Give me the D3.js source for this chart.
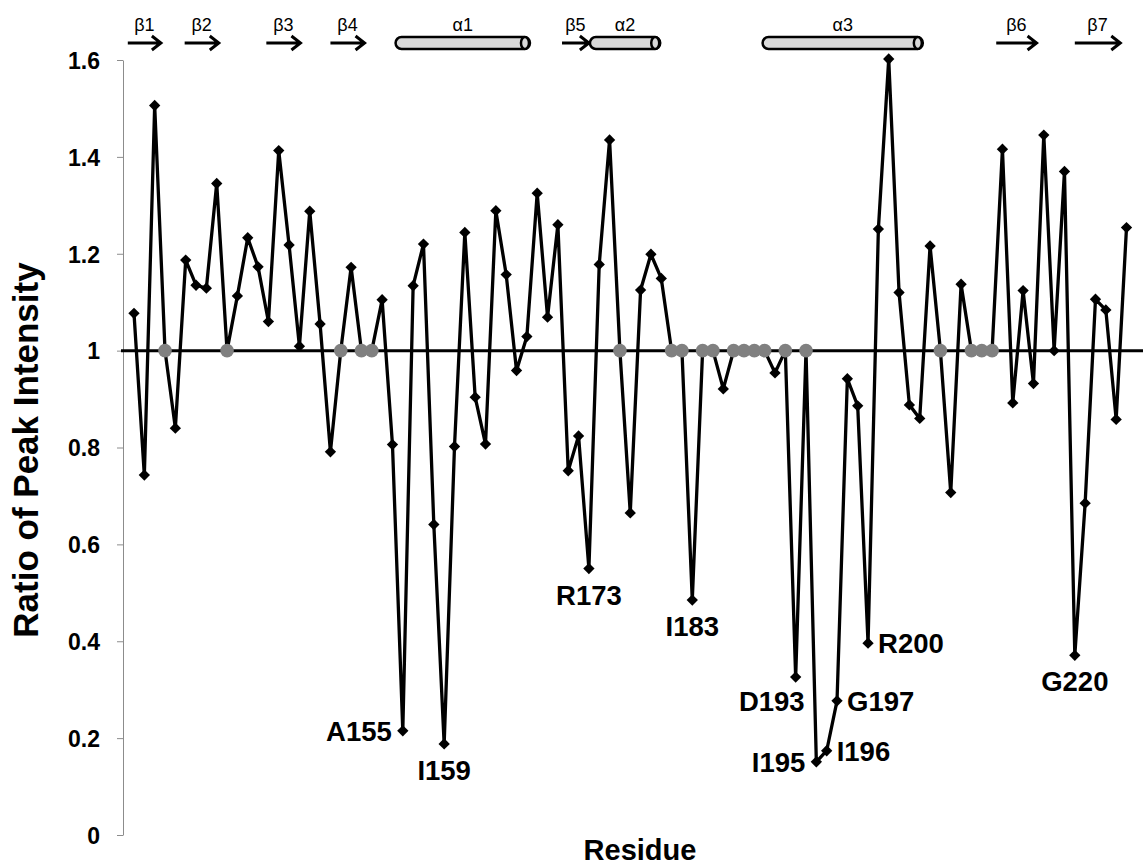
<!DOCTYPE html>
<html>
    <head>
        <title>Ratio of Peak Intensity</title>
        <meta charset="UTF-8">
        <style>
            body {margin:0; background:#fff;}
            text {font-family: "Liberation Sans", Arial, sans-serif; fill:#000;}
            .axis path, .axis line {stroke:#8c8c8c; stroke-width:1px;}
            .axis text {font-size:23px; font-weight:bold;}
            .title {font-size:30px; font-weight:bold; text-anchor:middle;}
            .reslabel {font-size:27.5px; font-weight:bold;}
            .ss text {font-size:18px; text-anchor:middle;}
        </style>
        <script src="https://d3js.org/d3.v7.min.js"></script>
    </head>
    <body>
        <svg width="1143" height="867"></svg>

        <script>
            //... values, one per residue from 129 to 225
            var firstResidue = 129;
            var ratio = [
                1.077, 0.743, 1.506, 1, 0.840, 1.187, 1.135, 1.129, 1.345, 1,
                1.113, 1.233, 1.173, 1.060, 1.413, 1.218, 1.009, 1.288, 1.055, 0.791,
                1, 1.172, 1, 1, 1.105, 0.806, 0.215, 1.134, 1.220, 0.641,
                0.188, 0.802, 1.244, 0.904, 0.807, 1.289, 1.157, 0.959, 1.029, 1.325,
                1.069, 1.260, 0.752, 0.824, 0.550, 1.178, 1.435, 1, 0.665, 1.125,
                1.199, 1.149, 1, 1, 0.485, 1, 1, 0.921, 1, 1,
                1, 1, 0.954, 1, 0.326, 1, 0.151, 0.174, 0.277, 0.942,
                0.886, 0.396, 1.251, 1.602, 1.120, 0.888, 0.860, 1.216, 1, 0.707,
                1.137, 1, 1, 1, 1.416, 0.892, 1.124, 0.932, 1.445, 1.0,
                1.370, 0.371, 0.685, 1.106, 1.084, 0.858, 1.254
            ];
            //... residues with no assignment (shown grey on the 1.0 line)
            var unassigned = [132, 138, 149, 151, 152, 176, 181, 182, 184, 185,
                              187, 188, 189, 190, 192, 194, 207, 210, 211, 212];

            var yTicks = [0, 0.2, 0.4, 0.6, 0.8, 1, 1.2, 1.4, 1.6];
            var yTickLabels = ["0", "0.2", "0.4", "0.6", "0.8", "1", "1.2", "1.4", "1.6"];

            //... labelled residues: side of the point the text sits on
            var labels = [
                {res:155, text:"A155", side:"left"},
                {res:159, text:"I159", side:"below"},
                {res:173, text:"R173", side:"below"},
                {res:183, text:"I183", side:"below"},
                {res:193, text:"D193", side:"belowleft"},
                {res:195, text:"I195", side:"left"},
                {res:196, text:"I196", side:"right"},
                {res:197, text:"G197", side:"right"},
                {res:200, text:"R200", side:"right"},
                {res:220, text:"G220", side:"below"}
            ];

            //... secondary structure along the top
            var strands = [
                {name:"β1", from:128.4, to:131.6},
                {name:"β2", from:133.9, to:137.2},
                {name:"β3", from:141.8, to:145.1},
                {name:"β4", from:148.0, to:151.3},
                {name:"β5", from:170.4, to:173.0},
                {name:"β6", from:212.4, to:216.3},
                {name:"β7", from:220.0, to:224.4}
            ];
            var helices = [
                {name:"α1", from:154.3, to:167.3},
                {name:"α2", from:173.1, to:179.9},
                {name:"α3", from:189.8, to:205.3}
            ];

            var svg = d3.select("svg");
            var data = ratio.map(function(v, i) {
                var r = firstResidue + i;
                return {res:r, v:v, grey: unassigned.indexOf(r) >= 0};
            });

            var x = d3.scaleLinear().domain([129, 225]).range([134, 1126.5]);
            var y = d3.scaleLinear().domain([0, 1.6]).range([835, 60]);

            svg.append("g")
                .attr("class", "axis")
                .attr("transform", "translate(123,0)")
                .call(d3.axisLeft(y).tickValues(yTicks)
                    .tickFormat(function(d, i) { return yTickLabels[i]; })
                    .tickSize(6).tickSizeOuter(0).tickPadding(17))
                .selectAll("text").attr("dy", "0.36em");

            //... reference line at 1
            svg.append("line")
                .attr("x1", 121).attr("x2", 1143)
                .attr("y1", y(1)).attr("y2", y(1))
                .style("stroke", "#000").style("stroke-width", 3);

            var line = d3.line().x(d => x(d.res)).y(d => y(d.v));
            svg.append("path")
                .datum(data)
                .attr("d", line)
                .style("fill", "none").style("stroke", "#000")
                .style("stroke-width", 3.3).style("stroke-linejoin", "round");

            svg.append("g").selectAll("circle")
                .data(data.filter(d => d.grey))
                .enter().append("circle")
                .attr("cx", d => x(d.res)).attr("cy", d => y(d.v))
                .attr("r", 6.8)
                .style("fill", "#808080");

            var diamond = d3.symbol().type(d3.symbolSquare).size(64);
            svg.append("g").selectAll("path")
                .data(data.filter(d => !d.grey))
                .enter().append("path")
                .attr("d", diamond)
                .attr("transform", d => "translate(" + x(d.res) + "," + y(d.v) + ") rotate(45)")
                .style("fill", "#000");

            //... residue labels
            var byRes = {};
            data.forEach(d => byRes[d.res] = d);
            svg.append("g").selectAll("text")
                .data(labels)
                .enter().append("text")
                .attr("class", "reslabel")
                .attr("x", function(d) {
                    var px = x(d.res);
                    if (d.side == "left") return px - 11;
                    if (d.side == "right") return px + 10;
                    if (d.side == "belowleft") return px + 9;
                    return px;
                })
                .attr("y", function(d) {
                    var py = y(byRes[d.res].v);
                    if (d.side == "below") return py + 36;
                    if (d.side == "belowleft") return py + 34;
                    return py + 10;
                })
                .style("text-anchor", function(d) {
                    if (d.side == "left" || d.side == "belowleft") return "end";
                    if (d.side == "right") return "start";
                    return "middle";
                })
                .text(d => d.text);

            //... structure elements
            var ss = svg.append("g").attr("class", "ss");
            var sy = 43;
            ss.selectAll("path.strand")
                .data(strands)
                .enter().append("path")
                .attr("class", "strand")
                .attr("d", function(d) {
                    var a = x(d.from), b = x(d.to);
                    return "M" + a + "," + sy + "H" + b +
                           "M" + (b - 9) + "," + (sy - 7) + "L" + b + "," + sy + "L" + (b - 9) + "," + (sy + 7);
                })
                .style("fill", "none").style("stroke", "#000").style("stroke-width", 3);

            var h = ss.selectAll("g.helix")
                .data(helices)
                .enter().append("g").attr("class", "helix");
            h.append("rect")
                .attr("x", d => x(d.from)).attr("y", sy - 6)
                .attr("width", d => x(d.to) - x(d.from)).attr("height", 12)
                .attr("rx", 6)
                .style("fill", "#d9d9d9").style("stroke", "#000").style("stroke-width", 2.5);
            h.append("ellipse")
                .attr("cx", d => x(d.to) - 5).attr("cy", sy)
                .attr("rx", 4).attr("ry", 6)
                .style("fill", "#d9d9d9").style("stroke", "#000").style("stroke-width", 2.5);

            ss.selectAll("text")
                .data(strands.concat(helices))
                .enter().append("text")
                .attr("x", d => (x(d.from) + x(d.to)) / 2)
                .attr("y", 31)
                .text(d => d.name);

            //... axis titles
            svg.append("text")
                .attr("class", "title")
                .attr("transform", "translate(38,450) rotate(-90)")
                .style("font-size", "35px")
                .text("Ratio of Peak Intensity");
            svg.append("text")
                .attr("class", "title")
                .attr("x", 640).attr("y", 860)
                .style("font-size", "29px")
                .text("Residue");
        </script>
    </body>
</html>
